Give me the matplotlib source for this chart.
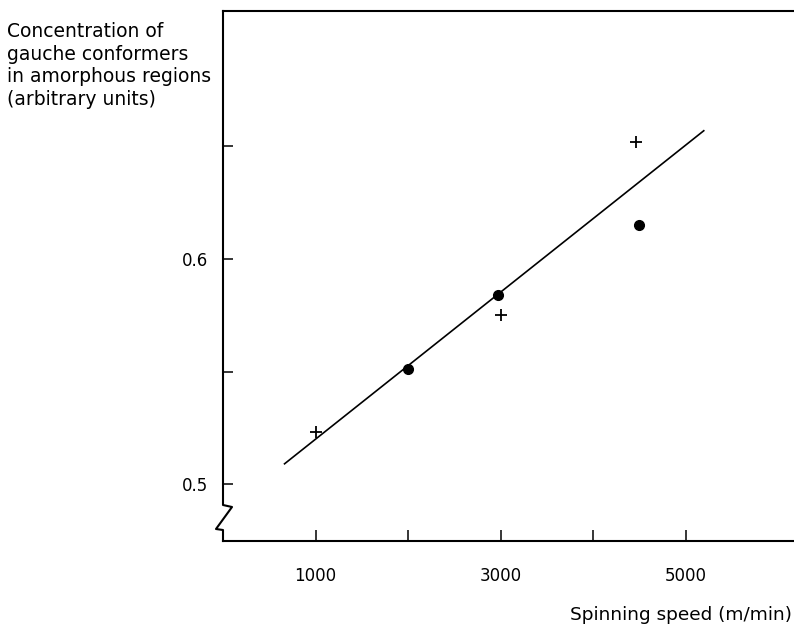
import matplotlib
matplotlib.use("Agg")
import matplotlib.pyplot as plt
from matplotlib.lines import Line2D

# Data
plus_speed = [1000, 3000, 4460]
plus_conc = [0.523, 0.575, 0.652]
dot_speed = [2000, 2970, 4500]
dot_conc = [0.551, 0.584, 0.615]
fit_speed = [665, 5195]
fit_conc = [0.509, 0.657]

xticks = [1000, 2000, 3000, 4000, 5000]
xticklabels = ["1000", "", "3000", "", "5000"]
yticks = [0.5, 0.55, 0.6, 0.65]
yticklabels = ["0.5", "", "0.6", ""]

plt.rcParams['font.family'] = ['DejaVu Sans']

fig = plt.figure(figsize=(7.94, 6.29), dpi=100)
ax = fig.add_axes([223/794, 88/629, 1 - 223/794, (541 - 11)/629])

ax.plot(fit_speed, fit_conc, color='black', lw=1.2)
ax.plot(plus_speed, plus_conc, linestyle='none', marker='+', ms=8, mew=1.3, color='black')
ax.plot(dot_speed, dot_conc, linestyle='none', marker='o', ms=7, color='black')

ax.set_xlim(0, 6170)
ax.set_ylim(0.4747, 0.7102)

ax.set_xticks(xticks)
ax.set_xticklabels(xticklabels)
ax.set_yticks(yticks)
ax.set_yticklabels(yticklabels)
ax.tick_params(axis='x', direction='in', length=8, width=1.1, pad=19, labelsize=12)
ax.tick_params(axis='y', direction='in', length=7, width=1.1, pad=11, labelsize=12)

ax.spines['right'].set_visible(False)
ax.spines['left'].set_visible(False)
ax.spines['top'].set_linewidth(1.5)
ax.spines['bottom'].set_linewidth(1.5)

# Left spine with axis-break zigzag
H = 530.0
W = 571.0
zx = [0, 0, 9/W, -7/W, 0, 0]
zy = [1, 36/H, 34/H, 12/H, 11/H, 0]
ax.add_line(Line2D(zx, zy, transform=ax.transAxes, color='black', lw=1.5, clip_on=False))

fig.text(7/794, 1 - 22/629,
         "Concentration of\ngauche conformers\nin amorphous regions\n(arbitrary units)",
         ha='left', va='top', fontsize=13.5, linespacing=1.24)
fig.text(792/794, 14/629, "Spinning speed (m/min)", ha='right', va='center', fontsize=13.3)

fig.savefig("out.png", dpi=100)
